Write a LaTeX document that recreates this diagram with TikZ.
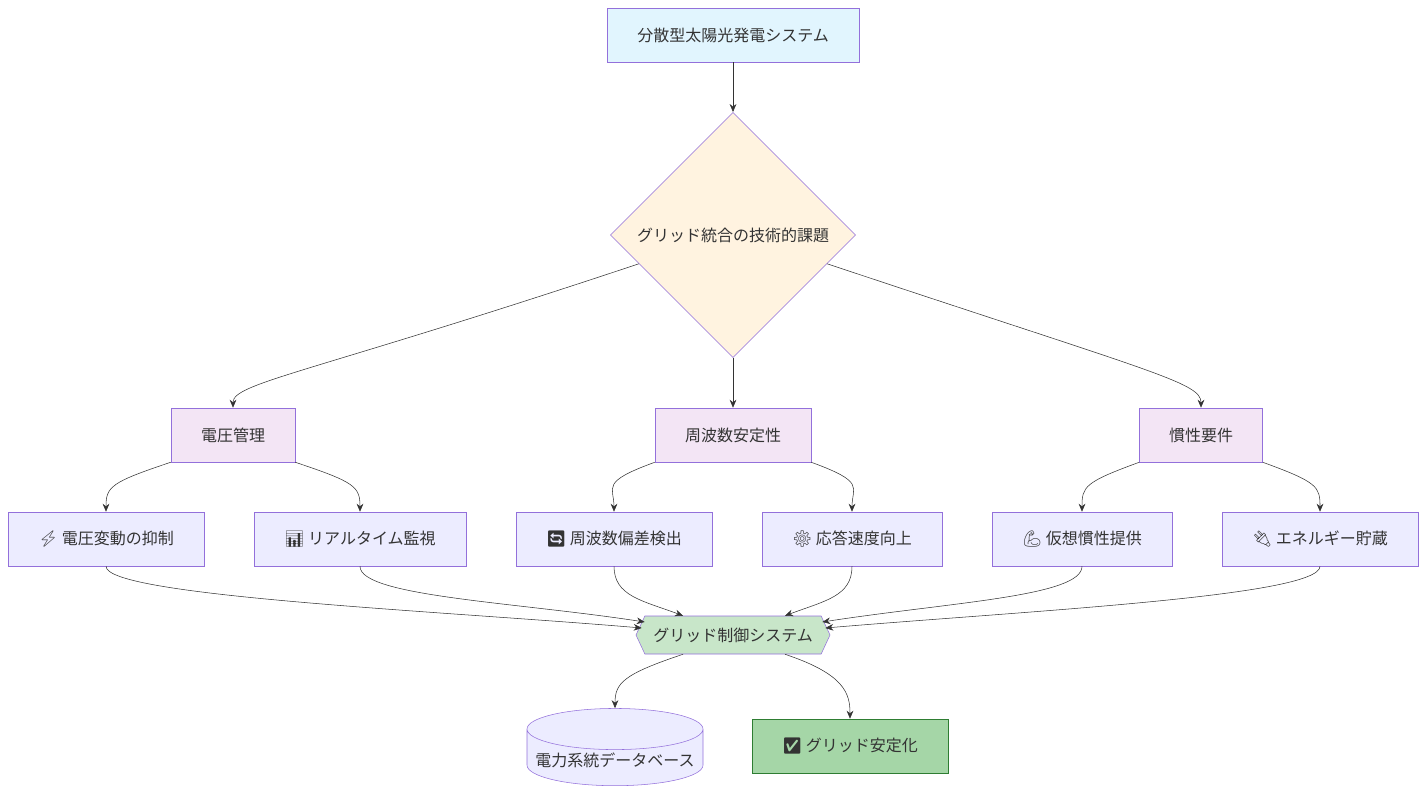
\documentclass[tikz,border=0pt]{standalone}
\usepackage{fontspec}
\setmainfont{Noto Sans CJK JP}
\newfontfamily\emoji{Noto Emoji}
\usetikzlibrary{positioning,shapes.geometric,shapes.symbols,arrows.meta,calc}
\definecolor{edgepurple}{HTML}{9370DB}
\definecolor{linegray}{HTML}{333333}
\definecolor{topfill}{HTML}{E1F5FE}
\definecolor{diafill}{HTML}{FFF3E0}
\definecolor{catfill}{HTML}{F3E5F5}
\definecolor{itemfill}{HTML}{ECECFF}
\definecolor{ctrlfill}{HTML}{C8E6C9}
\definecolor{okfill}{HTML}{A5D6A7}
\definecolor{okline}{HTML}{2E7D32}
\tikzset{
  box/.style={draw=edgepurple, fill=#1, minimum height=40.5pt, inner sep=2pt, font=\fontsize{12}{14}\selectfont, text=linegray},
  link/.style={draw=linegray, -{Stealth[length=6pt,width=5pt]}},
}
\begin{document}
\begin{tikzpicture}[x=0.75pt,y=-0.75pt]
\useasboundingbox (0,0) rectangle (1426,796);

% top and decision
\node[box=topfill, minimum width=189pt] (pv) at (733,35) {分散型太陽光発電システム};
\node[box=diafill, diamond, aspect=1, minimum size=184pt, inner sep=0pt] (dia) at (733,235) {グリッド統合の技術的課題};

% challenges
\node[box=catfill, minimum width=93pt] (volt) at (233,435) {電圧管理};
\node[box=catfill, minimum width=117pt] (freq) at (733,435) {周波数安定性};
\node[box=catfill, minimum width=92.25pt] (iner) at (1201,435) {慣性要件};

% measures
\node[box=itemfill, minimum width=147pt] (supp) at (106,539) {{\emoji ⚡} 電圧変動の抑制};
\node[box=itemfill, minimum width=159pt] (moni) at (360,539) {{\emoji 📊} リアルタイム監視};
\node[box=itemfill, minimum width=147pt] (detc) at (614,539) {{\emoji 🔄} 周波数偏差検出};
\node[box=itemfill, minimum width=135pt] (resp) at (852,539) {{\emoji ⚙} 応答速度向上};
\node[box=itemfill, minimum width=135pt] (virt) at (1082,539) {{\emoji 💪} 仮想慣性提供};
\node[box=itemfill, minimum width=147pt] (stor) at (1320,539) {{\emoji 🔌} エネルギー貯蔵};

% control and results
\node[box=ctrlfill, signal, signal to=west and east, signal pointer angle=130, minimum width=145.5pt, minimum height=28.5pt] (ctrl) at (733,635) {グリッド制御システム};
\node[box=itemfill, cylinder, shape border rotate=90, aspect=0.25, minimum width=132pt, minimum height=52pt] (db) at (615,760) {電力系統データベース};
\node[box=okfill, draw=okline, minimum width=147pt] (ok) at (850,746) {{\emoji ✅} グリッド安定化};

\draw[link] (pv) -- (dia);
\draw[link] (dia.197) .. controls +(-330,110) and +(0,-25) .. (volt.north);
\draw[link] (dia.south) -- (freq.north);
\draw[link] (dia.-17) .. controls +(330,110) and +(0,-25) .. (iner.north);

\draw[link] (volt.south west) .. controls +(-60,20) and +(0,-25) .. (supp.north);
\draw[link] (volt.south east) .. controls +(60,20) and +(0,-25) .. (moni.north);
\draw[link] (freq.south west) .. controls +(-55,20) and +(0,-25) .. (detc.north);
\draw[link] (freq.south east) .. controls +(55,20) and +(0,-25) .. (resp.north);
\draw[link] (iner.south west) .. controls +(-55,20) and +(0,-25) .. (virt.north);
\draw[link] (iner.south east) .. controls +(55,20) and +(0,-25) .. (stor.north);

\draw[link] (supp.south) .. controls +(0,30) and +(-200,-17) .. ($(ctrl.west)+(6,-7)$);
\draw[link] (moni.south) .. controls +(0,30) and +(-130,-20) .. ($(ctrl.west)+(9,-13)$);
\draw[link] (detc.south) .. controls +(0,30) and +(-40,-15) .. ($(ctrl.north)+(-50,0)$);
\draw[link] (resp.south) .. controls +(0,30) and +(40,-15) .. ($(ctrl.north)+(52,0)$);
\draw[link] (virt.south) .. controls +(0,30) and +(130,-20) .. ($(ctrl.east)+(-8,-13)$);
\draw[link] (stor.south) .. controls +(0,30) and +(200,-17) .. ($(ctrl.east)+(-5,-7)$);

\draw[link] ($(ctrl.south)+(-50,0)$) .. controls +(-60,20) and +(0,-25) .. (db.north);
\draw[link] ($(ctrl.south)+(52,0)$) .. controls +(60,20) and +(0,-25) .. (ok.north);
\end{tikzpicture}
\end{document}
